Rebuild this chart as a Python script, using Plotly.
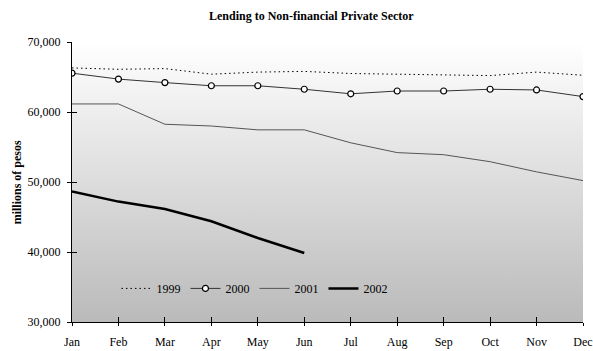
import plotly.graph_objects as go

months = ["Jan", "Feb", "Mar", "Apr", "May", "Jun", "Jul", "Aug", "Sep", "Oct", "Nov", "Dec"]
x_idx = list(range(len(months)))

y1999 = [66300, 66100, 66200, 65400, 65700, 65800, 65500, 65350, 65300, 65200, 65700, 65250]
y2000 = [65550, 64700, 64200, 63750, 63750, 63250, 62600, 63000, 63000, 63250, 63150, 62200]
y2001 = [61150, 61150, 58250, 58000, 57450, 57450, 55600, 54200, 53900, 52900, 51450, 50200]
y2002 = [48650, 47200, 46150, 44400, 42000, 39850]

y_range = [30000, 70000]
x_range = [0, 11]
y_ticks = [30000, 40000, 50000, 60000, 70000]

FONT = "Liberation Serif, Times New Roman, serif"

fig = go.Figure()

# gradient background of the plot area
fig.add_trace(go.Scatter(
    x=[x_range[0], x_range[1], x_range[1], x_range[0], x_range[0]],
    y=[y_range[0], y_range[0], y_range[1], y_range[1], y_range[0]],
    mode="none", fill="toself",
    fillgradient=dict(type="vertical", colorscale=[[0, "#bababa"], [1, "#ffffff"]]),
    showlegend=False, hoverinfo="skip",
))

fig.add_trace(go.Scatter(x=x_idx, y=y1999, name="1999", mode="lines",
                         line=dict(color="#000000", width=1, dash="1.5px,3px")))
fig.add_trace(go.Scatter(x=x_idx, y=y2000, name="2000", mode="lines+markers",
                         line=dict(color="#333333", width=1),
                         marker=dict(symbol="circle", size=6, color="#ffffff",
                                     line=dict(color="#000000", width=1.2))))
fig.add_trace(go.Scatter(x=x_idx, y=y2001, name="2001", mode="lines",
                         line=dict(color="#555555", width=1)))
fig.add_trace(go.Scatter(x=x_idx[:len(y2002)], y=y2002, name="2002", mode="lines",
                         line=dict(color="#000000", width=2.5)))

# empty trace to carry the overlay axes (inner tick halves)
fig.add_trace(go.Scatter(x=[], y=[], xaxis="x2", yaxis="y2", showlegend=False, hoverinfo="skip"))

fig.update_layout(
    width=593, height=351,
    margin=dict(l=72, r=10, t=42, b=29, autoexpand=False),
    paper_bgcolor="#ffffff",
    plot_bgcolor="rgba(0,0,0,0)",
    font=dict(family=FONT, size=12, color="#000000"),
    title=dict(text="<b>Lending to Non-financial Private Sector</b>",
               x=0.525, xanchor="center", y=0.955, yanchor="middle",
               font=dict(family=FONT, size=12, color="#000000")),
    showlegend=True,
    legend=dict(orientation="h", x=0.087, y=0.12, xanchor="left", yanchor="middle",
                bgcolor="rgba(0,0,0,0)", font=dict(family=FONT, size=12),
                itemwidth=30, tracegroupgap=0),
    annotations=[dict(text="<b>millions of pesos</b>", xref="paper", yref="paper",
                      x=-0.107, y=0.5, xanchor="center", yanchor="middle",
                      textangle=-90, showarrow=False,
                      font=dict(family=FONT, size=12, color="#000000"))],
    xaxis=dict(range=x_range, tickvals=x_idx, ticktext=months, showgrid=False,
               zeroline=False, showline=True, linecolor="#000000", linewidth=1,
               ticks="outside", ticklen=3, tickcolor="#000000", automargin=False,
               tickfont=dict(family=FONT, size=12), ticklabelstandoff=6),
    yaxis=dict(range=y_range, tickvals=y_ticks, tickformat=",", showgrid=False,
               zeroline=False, showline=True, linecolor="#000000", linewidth=1,
               ticks="outside", ticklen=4, tickcolor="#000000", automargin=False,
               tickfont=dict(family=FONT, size=12), ticklabelstandoff=4),
    xaxis2=dict(range=x_range, tickvals=x_idx, overlaying="x", anchor="y", side="bottom",
                showticklabels=False, showgrid=False, zeroline=False, showline=False,
                ticks="inside", ticklen=5, tickcolor="#000000", automargin=False),
    yaxis2=dict(range=y_range, tickvals=y_ticks, overlaying="y", anchor="x", side="left",
                showticklabels=False, showgrid=False, zeroline=False, showline=False,
                ticks="inside", ticklen=5, tickcolor="#000000", automargin=False),
)

fig.write_html("out.html")
